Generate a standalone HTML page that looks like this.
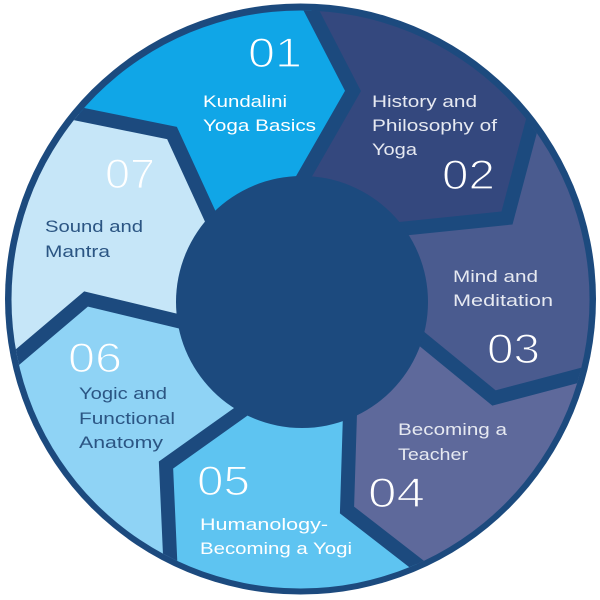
<!DOCTYPE html>
<html><head><meta charset="utf-8"><style>
html,body{margin:0;padding:0;background:#fff;width:600px;height:600px;overflow:hidden;}
svg{display:block;overflow:hidden;}
text{font-family:"Liberation Sans",sans-serif;}
.n{font-size:42px;fill:#fff;stroke-width:1.3px;}
.l{font-size:17px;}
</style></head><body>
<svg width="600" height="600" viewBox="0 0 600 600" xmlns="http://www.w3.org/2000/svg">
<defs><clipPath id="c"><circle cx="300.5" cy="299.5" r="289"/></clipPath></defs>
<circle cx="300.5" cy="299" r="295.5" fill="#1c4a7e"/>
<g clip-path="url(#c)">
<polygon fill="#10a6e7" points="301,300 222,242 172,133 0,98 0,0 306,0 353,91 291,199"/>
<polygon fill="#34487e" points="301,300 291,199 353,91 306,0 565,0 507,218 371,232"/>
<polygon fill="#4a5b8f" points="301,300 371,232 507,218 565,0 600,0 600,370 494,398 395,317"/>
<polygon fill="#5e699b" points="301,300 395,317 494,398 600,370 600,600 463,600 347,510 351,381"/>
<polygon fill="#5ec4f1" points="301,300 351,381 347,510 463,600 172,600 166,465 270,391"/>
<polygon fill="#8fd3f5" points="301,300 270,391 166,465 172,600 0,600 0,372 86,299 215,330"/>
<polygon fill="#c6e6f8" points="301,300 215,330 86,299 0,372 0,98 172,133 222,242"/>
<g fill="none" stroke="#1c4a7e" stroke-width="14" stroke-linejoin="miter" stroke-miterlimit="10">
<polyline points="222,242 172,133 0,98"/>
<polyline points="291,199 353,91 306,0"/>
<polyline points="371,232 507,218 565,0"/>
<polyline points="395,317 494,398 600,370"/>
<polyline points="351,381 347,510 463,600"/>
<polyline points="270,391 166,465 172,600"/>
<polyline points="215,330 86,299 0,372"/>
</g>
</g>
<circle cx="302" cy="302" r="126" fill="#1c4a7e"/>

<!-- 01 -->
<text class="n" x="248" y="67" stroke="#10a6e7" textLength="54" lengthAdjust="spacingAndGlyphs">01</text>
<text class="l" x="203" y="107" fill="#fff" textLength="84" lengthAdjust="spacingAndGlyphs">Kundalini</text>
<text class="l" x="203" y="131" fill="#fff" textLength="113" lengthAdjust="spacingAndGlyphs">Yoga Basics</text>

<!-- 02 -->
<text class="l" x="372" y="107" fill="#e6e9f1" textLength="105" lengthAdjust="spacingAndGlyphs">History and</text>
<text class="l" x="372" y="131" fill="#e6e9f1" textLength="125" lengthAdjust="spacingAndGlyphs">Philosophy of</text>
<text class="l" x="372" y="155" fill="#e6e9f1" textLength="45" lengthAdjust="spacingAndGlyphs">Yoga</text>
<text class="n" x="442" y="189" stroke="#34487e" textLength="53" lengthAdjust="spacingAndGlyphs">02</text>

<!-- 03 -->
<text class="l" x="453" y="282" fill="#e6e9f1" textLength="85" lengthAdjust="spacingAndGlyphs">Mind and</text>
<text class="l" x="453" y="306" fill="#e6e9f1" textLength="100" lengthAdjust="spacingAndGlyphs">Meditation</text>
<text class="n" x="487" y="363" stroke="#4a5b8f" textLength="53" lengthAdjust="spacingAndGlyphs">03</text>

<!-- 04 -->
<text class="l" x="398" y="435" fill="#e6e9f1" textLength="109" lengthAdjust="spacingAndGlyphs">Becoming a</text>
<text class="l" x="398" y="460" fill="#e6e9f1" textLength="70" lengthAdjust="spacingAndGlyphs">Teacher</text>
<text class="n" x="368" y="507" stroke="#5e699b" textLength="57" lengthAdjust="spacingAndGlyphs">04</text>

<!-- 05 -->
<text class="n" x="197" y="495" stroke="#5ec4f1" textLength="53" lengthAdjust="spacingAndGlyphs">05</text>
<text class="l" x="200" y="530" fill="#fff" textLength="128" lengthAdjust="spacingAndGlyphs">Humanology-</text>
<text class="l" x="200" y="554" fill="#fff" textLength="152" lengthAdjust="spacingAndGlyphs">Becoming a Yogi</text>

<!-- 06 -->
<text class="n" x="68" y="372" stroke="#8fd3f5" textLength="54" lengthAdjust="spacingAndGlyphs">06</text>
<text class="l" x="79" y="399" fill="#2b5583" textLength="88" lengthAdjust="spacingAndGlyphs">Yogic and</text>
<text class="l" x="79" y="424" fill="#2b5583" textLength="96" lengthAdjust="spacingAndGlyphs">Functional</text>
<text class="l" x="79" y="448" fill="#2b5583" textLength="84" lengthAdjust="spacingAndGlyphs">Anatomy</text>

<!-- 07 -->
<text class="n" x="105" y="188" stroke="#c6e6f8" textLength="50" lengthAdjust="spacingAndGlyphs">07</text>
<text class="l" x="45" y="232" fill="#2b5583" textLength="98" lengthAdjust="spacingAndGlyphs">Sound and</text>
<text class="l" x="45" y="257" fill="#2b5583" textLength="65" lengthAdjust="spacingAndGlyphs">Mantra</text>
</svg>
</body></html>
